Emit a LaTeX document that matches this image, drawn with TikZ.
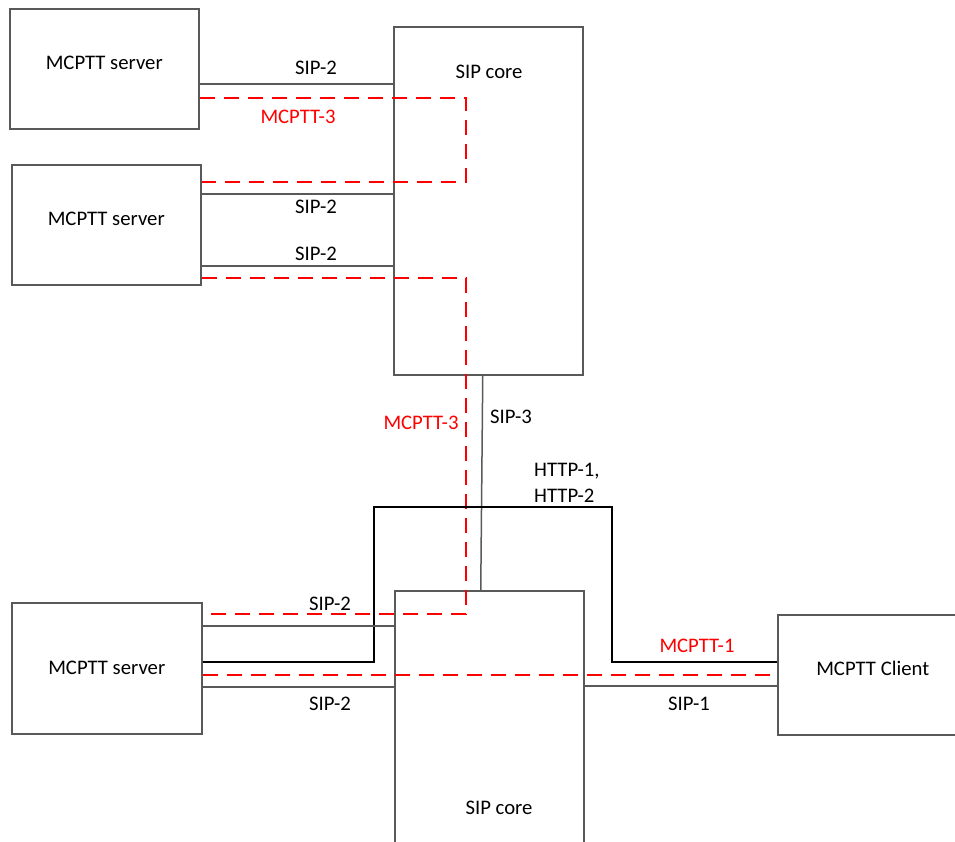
\documentclass[tikz,border=0pt]{standalone}
\usepackage{fontspec}
\setmainfont{Carlito}
\usetikzlibrary{calc,positioning}
\definecolor{boxgray}{HTML}{595959}
\tikzstyle{server}=[rectangle,draw=boxgray,line width=1.5pt,inner sep=0pt,
minimum width=190pt,minimum height=120pt,anchor=north west,align=center]
\tikzstyle{raised}=[text depth=12pt]
\tikzstyle{core}=[rectangle,draw=boxgray,line width=1.5pt,inner sep=0pt,
minimum width=189pt,anchor=north west]
\tikzstyle{sip}=[draw=boxgray,line width=1.5pt]
\tikzstyle{mcptt}=[draw=red,line width=2pt,dash pattern=on 15pt off 9pt]
\tikzstyle{http}=[draw=black,line width=2pt]
\tikzstyle{lbl}=[inner sep=1pt]
\tikzstyle{redlbl}=[inner sep=1pt,text=red]

\begin{document}
\begin{tikzpicture}[x=1pt,y=-1pt,font=\fontsize{20.7}{26}\selectfont]
    \useasboundingbox (0,0) rectangle (955,841);
    \path[clip] (0,0) rectangle (955,841);

    % boxes
    \node[server,raised,minimum width=189pt] (srvA) at (9,8) {MCPTT server};
    \node[server,raised,minimum width=189pt] (srvB) at (11,164) {MCPTT server};
    \node[server,minimum height=131pt] (srvC) at (11,602) {MCPTT server};
    \node[core,minimum height=348pt] (coreA) at (393,26) {};
    \node[core,minimum height=300pt] (coreB) at (394,590) {};
    \node[server,raised] (client) at (777,614) {MCPTT Client};
    \node[lbl] (coreAtxt) at (489,72) {SIP core};
    \node[lbl] (coreBtxt) at (499,808) {SIP core};

    % upper links
    \draw[sip] ($(srvA.north east)+(0,76)$) coordinate (a1) -- (a1 -| coreA.west);
    \draw[mcptt] ($(srvA.north east)+(0,90)$) -- ++(266,0)
        |- ($(srvB.north east)+(0,18)$);
    \draw[sip] ($(srvB.north east)+(0,30)$) coordinate (b1) -- (b1 -| coreA.west);
    \draw[sip] ($(srvB.north east)+(0,102)$) coordinate (b2) -- (b2 -| coreA.west);
    \draw[mcptt] ($(srvB.north east)+(0,114)$) -- ++(264,0)
        |- ($(srvC.north east)+(0,12)$);
    \draw[sip] ([xshift=-5.5pt]coreA.south) -- ([xshift=-8.5pt]coreB.north);

    % lower links
    \draw[http] ($(srvC.north east)+(0,60)$) -- ++(171,0) -- ++(0,-155)
        -| ($(client.north west)+(-165,48)$) -- ($(client.north west)+(0,48)$);
    \draw[sip] ($(srvC.north east)+(0,24)$) coordinate (c1) -- (c1 -| coreB.west);
    \draw[mcptt] ($(srvC.north east)+(0,73)$) coordinate (c2) -- (c2 -| client.west);
    \draw[sip] ($(srvC.north east)+(0,85)$) coordinate (c3) -- (c3 -| coreB.west);
    \draw[sip] ($(coreB.north east)+(0,96)$) coordinate (d1) -- (d1 -| client.west);

    % labels
    \node[lbl] (l1) at (316,68) {SIP-2};
    \node[redlbl] (l2) at (298,117) {MCPTT-3};
    \node[lbl] (l3) at (316,207) {SIP-2};
    \node[lbl] (l4) at (316,254) {SIP-2};
    \node[redlbl] (l5) at (421,423) {MCPTT-3};
    \node[lbl] (l6) at (511,417) {SIP-3};
    \node[lbl,anchor=west,align=left] (l7) at (533,483) {HTTP-1,\\HTTP-2};
    \node[lbl] (l8) at (330,604) {SIP-2};
    \node[lbl] (l9) at (330,704) {SIP-2};
    \node[lbl] (l10) at (689,704) {SIP-1};
    \node[redlbl] (l11) at (697,646) {MCPTT-1};
\end{tikzpicture}
\end{document}
